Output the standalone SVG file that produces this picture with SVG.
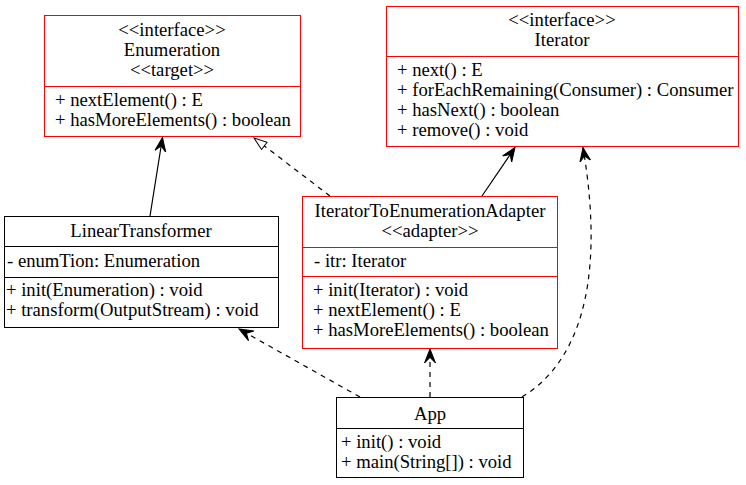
<svg xmlns="http://www.w3.org/2000/svg" width="746" height="485" viewBox="0 0 746 485">
<defs>
<style>
.t{font-family:"Liberation Serif",serif;font-size:18.67px;fill:#000}
.c{text-anchor:middle}
.red{fill:#fff;stroke:#ff0000;stroke-width:1}
.blk{fill:#fff;stroke:#000;stroke-width:1}
.rl{stroke:#ff0000;stroke-width:1}
.bl{stroke:#000;stroke-width:1}
.e{fill:none;stroke:#000;stroke-width:1.2}
.d{stroke-dasharray:5,5}
</style>
<marker id="vee" viewBox="0 0 15 14" refX="14" refY="7" markerWidth="15" markerHeight="14" markerUnits="userSpaceOnUse" orient="auto">
<path d="M14,7 L0,1.5 L5.5,7 L0,12.5 Z" fill="#000" stroke="#000" stroke-width="1"/>
</marker>
<marker id="tri" viewBox="0 0 15 12" refX="14" refY="6" markerWidth="15" markerHeight="12" markerUnits="userSpaceOnUse" orient="auto">
<path d="M1,1.5 L14,6 L1,10.5 Z" fill="#fff" stroke="#000" stroke-width="1"/>
</marker>
</defs>
<rect width="746" height="485" fill="#fff"/>
<g id="connectors">
<path class="e" d="M150,216 L162.5,137.5" marker-end="url(#vee)"/>
<path class="e d" d="M330,196 L254,138" marker-end="url(#tri)"/>
<path class="e" d="M482,196 L515,147.5" marker-end="url(#vee)"/>
<path class="e d" d="M360,397 L239,329" marker-end="url(#vee)"/>
<path class="e d" d="M430,397 L430,349" marker-end="url(#vee)"/>
<path class="e d" d="M522,397 C575,365 607,290 583,147.5" marker-end="url(#vee)"/>
</g>
<g id="Enumeration">
<rect class="red" x="44.5" y="15.5" width="256" height="121"/>
<line class="rl" x1="44.5" y1="86.5" x2="300.5" y2="86.5"/>
<text class="t c" x="172" y="36">&lt;&lt;interface&gt;&gt;</text>
<text class="t c" x="172" y="56">Enumeration</text>
<text class="t c" x="172" y="76">&lt;&lt;target&gt;&gt;</text>
<text class="t" x="55" y="106">+ nextElement() : E</text>
<text class="t" x="55" y="126">+ hasMoreElements() : boolean</text>
</g>
<g id="Iterator">
<rect class="red" x="386.5" y="6.5" width="352" height="140"/>
<line class="rl" x1="386.5" y1="56.5" x2="738.5" y2="56.5"/>
<text class="t c" x="562" y="26">&lt;&lt;interface&gt;&gt;</text>
<text class="t c" x="562" y="46">Iterator</text>
<text class="t" x="397" y="76">+ next() : E</text>
<text class="t" x="397" y="96">+ forEachRemaining(Consumer) : Consumer</text>
<text class="t" x="397" y="116">+ hasNext() : boolean</text>
<text class="t" x="397" y="136">+ remove() : void</text>
</g>
<g id="LinearTransformer">
<rect class="blk" x="4.5" y="216.5" width="274" height="111"/>
<line class="bl" x1="4.5" y1="246.5" x2="278.5" y2="246.5"/>
<line class="bl" x1="4.5" y1="277.5" x2="278.5" y2="277.5"/>
<text class="t c" x="141" y="237">LinearTransformer</text>
<text class="t" x="7" y="267">- enumTion: Enumeration</text>
<text class="t" x="6" y="296">+ init(Enumeration) : void</text>
<text class="t" x="6" y="316">+ transform(OutputStream) : void</text>
</g>
<g id="IteratorToEnumerationAdapter">
<rect class="red" x="302.5" y="196.5" width="255" height="152"/>
<line class="rl" x1="302.5" y1="247.5" x2="557.5" y2="247.5"/>
<line class="rl" x1="302.5" y1="276.5" x2="557.5" y2="276.5"/>
<text class="t c" x="430" y="217">IteratorToEnumerationAdapter</text>
<text class="t c" x="430" y="237">&lt;&lt;adapter&gt;&gt;</text>
<text class="t" x="314" y="267">- itr: Iterator</text>
<text class="t" x="313" y="296">+ init(Iterator) : void</text>
<text class="t" x="313" y="316">+ nextElement() : E</text>
<text class="t" x="313" y="336">+ hasMoreElements() : boolean</text>
</g>
<g id="App">
<rect class="blk" x="336.5" y="397.5" width="187" height="80"/>
<line class="bl" x1="336.5" y1="428.5" x2="523.5" y2="428.5"/>
<text class="t c" x="430" y="420">App</text>
<text class="t" x="341" y="448">+ init() : void</text>
<text class="t" x="341" y="468">+ main(String[]) : void</text>
</g>
</svg>
